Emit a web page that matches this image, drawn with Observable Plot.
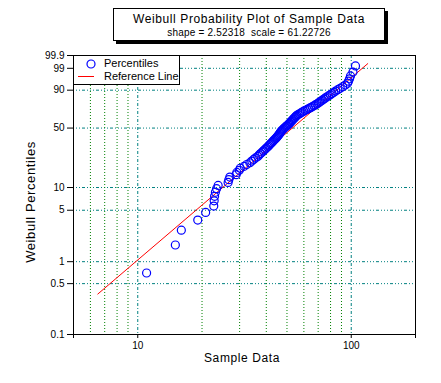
<!DOCTYPE html>
<html><head><meta charset="utf-8">
<script src="https://cdn.jsdelivr.net/npm/d3@7"></script>
<script src="https://cdn.jsdelivr.net/npm/@observablehq/plot@0.6"></script>
<style>
body{margin:0;background:#fff;font-family:"Liberation Sans",Arial,sans-serif;color:#000;}
#wrap{position:relative;width:441px;height:383px;overflow:hidden;background:#fff;}
#wrap svg.plot{position:absolute;left:0;top:0;}
.box{position:absolute;background:#fff;border:1px solid #000;box-sizing:border-box;}
#title{left:113px;top:8px;width:272px;height:33px;box-shadow:3px 3px 0 #000;text-align:center;}
#t1{position:absolute;left:0;right:0;top:3px;font-size:12px;letter-spacing:0.6px;white-space:pre;}
#t2{position:absolute;left:0;right:0;top:18px;font-size:10px;white-space:pre;letter-spacing:0.2px;}
#legend{left:73px;top:55px;width:107px;height:30px;}
.lt{position:absolute;left:30px;font-size:11px;white-space:nowrap;}
.lab{position:absolute;font-size:12px;letter-spacing:0.6px;white-space:nowrap;}
</style></head>
<body>
<div id="wrap">
  <div class="box" id="title"><div id="t1"></div><div id="t2"></div></div>
  <div class="box" id="legend">
    <svg width="30" height="30" style="position:absolute;left:0;top:0">
      <circle cx="17" cy="8" r="4" fill="none" stroke="#0000ff" stroke-width="1.2"></circle>
      <line x1="4" x2="20" y1="20.5" y2="20.5" stroke="#ff0000" stroke-width="1"></line>
    </svg>
    <div class="lt" id="l1" style="top:1px"></div>
    <div class="lt" id="l2" style="top:14px"></div>
  </div>
  <div class="lab" id="xlab" style="left:242px;top:351px;transform:translateX(-50%)"></div>
  <div class="lab" id="ylab" style="left:30px;top:202px;font-size:13px;transform:translate(-50%,-50%) rotate(-90deg)"></div>
</div>
<script>
// ---- data ----
const titleText = "Weibull Probability Plot of Sample Data";
const subtitleText = "shape = 2.52318  scale = 61.22726";
const legendLabels = ["Percentiles", "Reference Line"];
const xTitle = "Sample Data";
const yTitle = "Weibull Percentiles";

// sorted sample values
const sampleValues = [11.0, 15.0, 16.0, 19.1, 20.8, 22.7, 22.8, 22.9, 23.1, 23.4,
  23.8, 26.5, 26.7, 27.0, 28.9, 29.1, 29.9, 30.2, 31.5, 32.4,
  33.5, 34.2, 34.9, 35.6, 36.5, 37.0, 37.6, 38.2, 38.8, 39.4,
  39.9, 40.5, 41.0, 41.5, 42.0, 42.5, 43.0, 43.4, 43.9, 44.4,
  44.8, 45.2, 45.6, 46.0, 46.3, 46.6, 47.0, 47.4, 47.9, 48.3,
  48.9, 49.4, 49.9, 50.5, 51.0, 51.4, 51.9, 52.3, 52.8, 53.2,
  53.7, 54.2, 54.6, 55.1, 55.6, 56.4, 57.3, 58.2, 59.0, 59.9,
  61.0, 62.2, 63.3, 64.5, 65.6, 66.8, 67.9, 69.0, 70.1, 71.1,
  72.2, 73.3, 74.5, 75.6, 76.7, 78.2, 79.8, 81.3, 82.9, 84.5,
  86.5, 88.8, 91.2, 93.8, 96.1, 97.1, 98.2, 99.2, 101.9, 104.7];
// plotted percentiles (%)
const percentiles = [0.70, 1.69, 2.69, 3.69, 4.68, 5.68, 6.67, 7.67, 8.67, 9.66,
  10.66, 11.65, 12.65, 13.65, 14.64, 15.64, 16.63, 17.63, 18.63, 19.62,
  20.62, 21.61, 22.61, 23.61, 24.60, 25.60, 26.59, 27.59, 28.59, 29.58,
  30.58, 31.57, 32.57, 33.57, 34.56, 35.56, 36.55, 37.55, 38.55, 39.54,
  40.54, 41.53, 42.53, 43.53, 44.52, 45.52, 46.51, 47.51, 48.51, 49.50,
  50.50, 51.49, 52.49, 53.49, 54.48, 55.48, 56.47, 57.47, 58.47, 59.46,
  60.46, 61.45, 62.45, 63.45, 64.44, 65.44, 66.43, 67.43, 68.43, 69.42,
  70.42, 71.41, 72.41, 73.41, 74.40, 75.40, 76.39, 77.39, 78.39, 79.38,
  80.38, 81.37, 82.37, 83.37, 84.36, 85.36, 86.36, 87.35, 88.35, 89.34,
  90.34, 91.33, 92.33, 93.33, 94.32, 95.32, 96.32, 97.31, 98.31, 99.30];
// reference line end points
const refX = [6.5, 119.5];
const refP = [0.36, 99.52];

const yTickLabels = ["0.1", "0.5", "1", "5", "10", "50", "90", "99", "99.9"];
const yTickValues = [0.1, 0.5, 1, 5, 10, 50, 90, 99, 99.9];
const yGridValues = [0.5, 1, 5, 10, 50, 90, 99];
const xTickValues = [5, 10, 100, 200];
const xTickLabels = ["", "10", "100", ""];
const xMinorGrid = [6, 7, 8, 9, 20, 30, 40, 50, 60, 70, 80, 90];
const xMajorGrid = [10, 100];

// ---- build ----
document.getElementById("t1").textContent = titleText;
document.getElementById("t2").textContent = subtitleText;
document.getElementById("l1").textContent = legendLabels[0];
document.getElementById("l2").textContent = legendLabels[1];
document.getElementById("xlab").textContent = xTitle;
document.getElementById("ylab").textContent = yTitle;

const weib = p => Math.log10(-Math.log(1 - p / 100));
const points = sampleValues.map((v, i) => ({x: v, p: percentiles[i]}));
const ref = refX.map((v, i) => ({x: v, p: refP[i]}));
const yTickPos = yTickValues.map(weib);

const chart = Plot.plot({
  width: 441, height: 383,
  marginLeft: 73, marginRight: 26, marginTop: 55, marginBottom: 49,
  style: {fontFamily: "'Liberation Sans', Arial, sans-serif", fontSize: "10px", background: "transparent", color: "#000"},
  x: {type: "log", domain: [5, 200], label: null, ticks: xTickValues, tickSize: 4, tickPadding: 3,
      tickFormat: d => xTickLabels[xTickValues.indexOf(d)] ?? ""},
  y: {type: "linear", domain: [weib(0.1), weib(99.9)], label: null, ticks: yTickPos, tickSize: 6, tickPadding: 3,
      tickFormat: d => { const i = yTickPos.findIndex(t => Math.abs(t - d) < 1e-9); return i < 0 ? "" : yTickLabels[i]; }},
  marks: [
    Plot.ruleY(yGridValues, {y: d => weib(d), stroke: "#008080", strokeDasharray: "1,2,1,2,1,2,3,2", strokeWidth: 1}),
    Plot.ruleX(xMinorGrid, {x: d => d, stroke: "#008000", strokeDasharray: "1,2", strokeWidth: 1}),
    Plot.ruleX(xMajorGrid, {x: d => d, stroke: "#008080", strokeDasharray: "3,2,1,2", strokeWidth: 1}),
    Plot.line(ref, {x: "x", y: d => weib(d.p), stroke: "#ff0000", strokeWidth: 1}),
    Plot.dot(points, {x: "x", y: d => weib(d.p), r: 4, stroke: "#0000ff", strokeWidth: 1.2, fill: "none"}),
    Plot.frame({stroke: "#000", strokeWidth: 1})
  ]
});
chart.classList.add("plot");
document.getElementById("wrap").insertBefore(chart, document.getElementById("wrap").firstChild);
</script>
</body></html>
